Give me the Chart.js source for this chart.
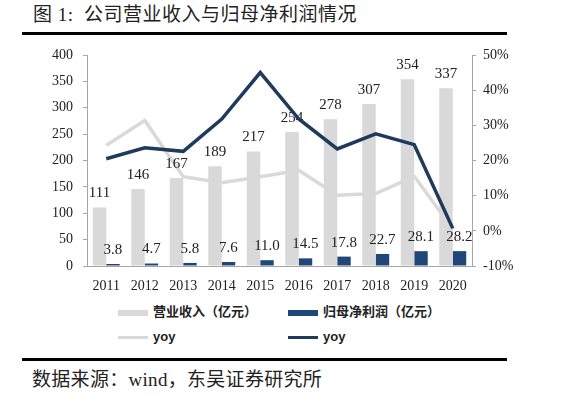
<!DOCTYPE html>
<html>
<head>
<meta charset="utf-8">
<script src="https://cdn.jsdelivr.net/npm/chart.js@4"></script>
<style>
  html, body { margin: 0; padding: 0; background: #fff; }
  body { width: 561px; height: 399px; position: relative; overflow: hidden; }
  .txt { position: absolute; white-space: nowrap; color: #222; font-family: "Liberation Serif", "Noto Sans CJK SC", serif; }
  #title { left: 33px; top: 3px; font-size: 19px; line-height: 24px; letter-spacing: 0.5px; }
  #source { left: 32px; top: 368px; font-size: 19px; line-height: 24px; letter-spacing: 0.3px; }
  .rule { position: absolute; left: 22px; width: 485px; background: #000; }
  #chartBox { position: absolute; left: 0; top: 0; width: 561px; height: 300px; }
  .lg { position: absolute; height: 16px; }
  .lg .mark { position: absolute; left: 0; width: 30px; }
  .lg span { position: absolute; left: 35px; top: -4px; font-size: 13px; font-weight: 700; line-height: 20px; color: #222; white-space: nowrap; font-family: "Liberation Sans", "Noto Sans CJK SC", sans-serif; }
</style>
</head>
<body>
<div id="title" class="txt">图 1:&nbsp;&nbsp;公司营业收入与归母净利润情况</div>
<div class="rule" style="top:32px;height:3px;"></div>
<div id="chartBox"><canvas id="chart" width="561" height="300"></canvas></div>
<div id="legend"></div>
<div class="rule" style="top:358px;height:3px;"></div>
<div id="source" class="txt">数据来源：wind，东吴证券研究所</div>
<script>
// years on the x axis
const years = ['2011', '2012', '2013', '2014', '2015', '2016', '2017', '2018', '2019', '2020'];
// 营业收入 (亿元)
const revenue = [111, 146, 167, 189, 217, 254, 278, 307, 354, 337];
// 归母净利润 (亿元)
const netProfit = [3.8, 4.7, 5.8, 7.6, 11.0, 14.5, 17.8, 22.7, 28.1, 28.2];
// yoy, percent
const revenueYoy = [24.3, 31.4, 15.4, 13.7, 15.4, 17.2, 10.1, 10.6, 15.5, 0.5];
const profitYoy = [20.5, 23.6, 22.6, 31.8, 45.0, 31.8, 23.3, 27.6, 24.5, 0.7];

const seriesLabels = ['营业收入（亿元）', '归母净利润（亿元）', 'yoy', 'yoy'];
const lightGrey = '#d9d9d9';
const darkBar = '#1f477a';
const darkLine = '#1f3b5c';
const axisGrey = '#a6a6a6';

// formatting of the value labels over the bars
const labelFormat = [v => String(Math.round(v)), v => v.toFixed(1)];

// bar value labels: drawn after the grey yoy line, before the dark one
const barLabels = {
  id: 'barLabels',
  afterDatasetDraw(chart, args) {
    if (args.index !== 2) return;
    const ctx = chart.ctx;
    ctx.save();
    ctx.font = '15px "Liberation Serif"';
    ctx.fillStyle = '#222';
    ctx.textAlign = 'center';
    ctx.textBaseline = 'middle';
    [0, 1].forEach((di) => {
      const ds = chart.data.datasets[di];
      chart.getDatasetMeta(di).data.forEach((bar, i) => {
        ctx.fillText(labelFormat[di](ds.data[i]), bar.x, bar.y - 14);
      });
    });
    ctx.restore();
  }
};

const tickFont = { family: 'Liberation Serif', size: 14 };

// order: lines on top (lowest order drawn last); light bar first in the group
const chart = new Chart(document.getElementById('chart'), {
  data: {
    labels: years,
    datasets: [
      {
        type: 'bar',
        label: seriesLabels[0],
        data: revenue,
        backgroundColor: lightGrey,
        yAxisID: 'y',
        order: 2,
        categoryPercentage: 0.7,
        barPercentage: 1.0,
      },
      {
        type: 'bar',
        label: seriesLabels[1],
        data: netProfit,
        backgroundColor: darkBar,
        yAxisID: 'y',
        order: 3,
        categoryPercentage: 0.7,
        barPercentage: 1.0,
      },
      {
        type: 'line',
        label: seriesLabels[2],
        data: revenueYoy,
        borderColor: lightGrey,
        borderWidth: 3.5,
        pointRadius: 0,
        tension: 0,
        yAxisID: 'y1',
        order: 1,
      },
      {
        type: 'line',
        label: seriesLabels[3],
        data: profitYoy,
        borderColor: darkLine,
        borderWidth: 3.5,
        pointRadius: 0,
        tension: 0,
        yAxisID: 'y1',
        order: 0,
      },
    ],
  },
  options: {
    responsive: false,
    animation: false,
    layout: { padding: { top: 55, left: 0, right: 0, bottom: 0 } },
    plugins: {
      legend: { display: false },
      tooltip: { enabled: false },
    },
    scales: {
      x: {
        grid: { display: true, drawOnChartArea: false, drawTicks: false },
        border: { color: axisGrey, width: 1 },
        ticks: { font: tickFont, color: '#222', padding: 12, maxRotation: 0 },
        afterFit: (s) => { s.height = 34; },
      },
      y: {
        position: 'left',
        min: 0,
        max: 400,
        ticks: { stepSize: 50, font: tickFont, color: '#222', padding: 10 },
        grid: { drawOnChartArea: false, drawTicks: true, tickLength: 4, tickColor: axisGrey },
        border: { color: axisGrey, width: 1 },
        afterFit: (s) => { s.width = 87; },
      },
      y1: {
        position: 'right',
        min: -10,
        max: 50,
        ticks: { stepSize: 10, font: tickFont, color: '#222', padding: 7, callback: (v) => v + '%' },
        grid: { drawOnChartArea: false, drawTicks: true, tickLength: 4, tickColor: axisGrey },
        border: { color: axisGrey, width: 1 },
        afterFit: (s) => { s.width = 89; },
      },
    },
  },
  plugins: [barLabels],
});

// legend built from the datasets, two columns x two rows
const legendBox = document.getElementById('legend');
const legendPos = [[118, 306], [288, 306], [118, 331], [288, 331]];
chart.data.datasets.forEach((ds, i) => {
  const item = document.createElement('div');
  item.className = 'lg';
  item.style.left = legendPos[i][0] + 'px';
  item.style.top = legendPos[i][1] + 'px';
  const mark = document.createElement('div');
  mark.className = 'mark';
  if (ds.type === 'bar') {
    mark.style.top = '4px';
    mark.style.height = '6px';
    mark.style.background = ds.backgroundColor;
  } else {
    mark.style.top = '5px';
    mark.style.height = '3px';
    mark.style.background = ds.borderColor;
  }
  const text = document.createElement('span');
  text.textContent = ds.label;
  item.appendChild(mark);
  item.appendChild(text);
  legendBox.appendChild(item);
});
</script>
</body>
</html>
